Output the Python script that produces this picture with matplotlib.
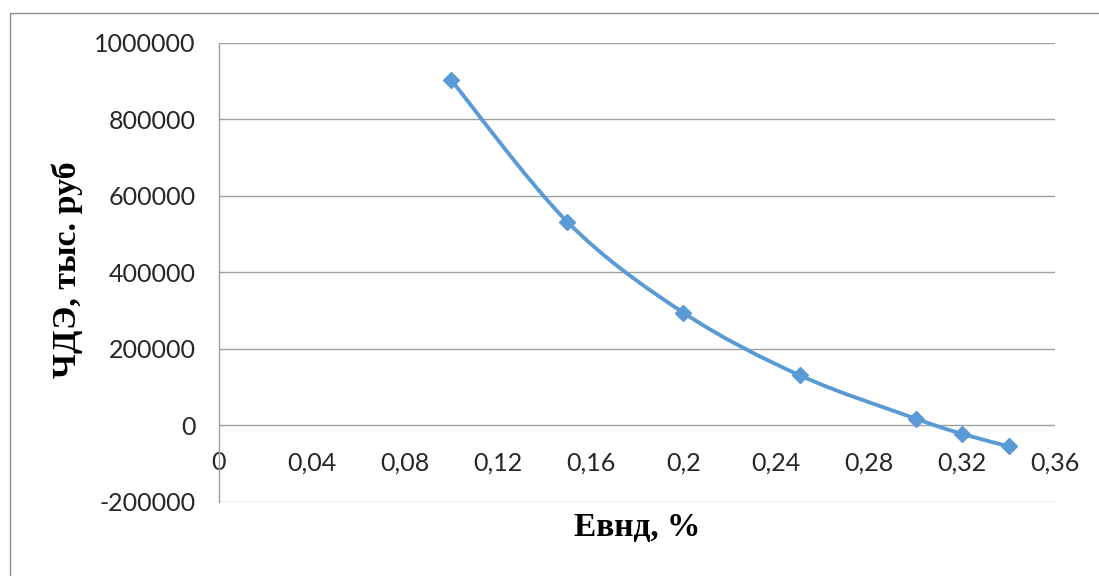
import numpy as np
import matplotlib
matplotlib.use("Agg")
import matplotlib.pyplot as plt
from matplotlib.path import Path
from matplotlib.patches import PathPatch, Rectangle
from matplotlib.ticker import FuncFormatter

# data
e_vnd = [0.10, 0.15, 0.20, 0.25, 0.30, 0.32, 0.34]
chde = [903000, 532000, 294000, 130500, 17000, -23000, -55500]

x_ticks = [0, 0.04, 0.08, 0.12, 0.16, 0.2, 0.24, 0.28, 0.32, 0.36]
y_ticks = [-200000, 0, 200000, 400000, 600000, 800000, 1000000]

x_label = "Евнд, %"
y_label = "ЧДЭ, тыс. руб"

line_color = "#5B9BD5"
grid_color = "#A0A0A0"

fig = plt.figure(figsize=(10.99, 5.76), dpi=100)
ax = fig.add_axes([219 / 1099, 1 - 501.5 / 576, (1055 - 219) / 1099, (501.5 - 43) / 576])

# excel-like smoothed line: bezier through the data points
pts = np.column_stack([e_vnd, chde]).astype(float)
verts = [pts[0]]
codes = [Path.MOVETO]
n = len(pts)
for i in range(n - 1):
    p_prev = pts[i - 1] if i > 0 else pts[i]
    p_next2 = pts[i + 2] if i + 2 < n else pts[i + 1]
    c1 = pts[i] + (pts[i + 1] - p_prev) / 6
    c2 = pts[i + 1] - (p_next2 - pts[i]) / 6
    verts += [c1, c2, pts[i + 1]]
    codes += [Path.CURVE4] * 3
ax.add_patch(PathPatch(Path(verts, codes), facecolor="none", edgecolor=line_color,
                       lw=2.8, capstyle="round", joinstyle="round", zorder=3))
ax.plot(e_vnd, chde, linestyle="none", marker="D", ms=8, color=line_color, zorder=4)

ax.set_xlim(0, 0.36)
ax.set_ylim(-200000, 1000000)
ax.set_yticks(y_ticks)
ax.set_xticks(x_ticks)
ax.yaxis.set_major_formatter(FuncFormatter(lambda v, p: "%d" % v))
ax.xaxis.set_major_formatter(FuncFormatter(lambda v, p: ("%g" % v).replace(".", ",")))

for s in ["top", "right", "bottom"]:
    ax.spines[s].set_visible(False)
ax.spines["left"].set_color(grid_color)
ax.spines["left"].set_linewidth(1)
ax.grid(axis="y", color=grid_color, lw=1)
ax.set_axisbelow(True)

# x axis labels sit under the zero line
ax.spines["bottom"].set_position(("data", 0))
ax.tick_params(axis="both", length=0, labelsize=18, labelcolor="#262626")
ax.tick_params(axis="y", pad=17)
ax.tick_params(axis="x", pad=19)
for lab in ax.get_xticklabels() + ax.get_yticklabels():
    lab.set_family("Lato")

fig.text(637 / 1099, 1 - 528 / 576, x_label, ha="center", va="center",
         family="Liberation Serif", weight="bold", fontsize=24)
fig.text(67 / 1099, 1 - 270 / 576, y_label, ha="center", va="center", rotation=90,
         family="Liberation Serif", weight="bold", fontsize=24.5)

fig.patches.append(Rectangle((10 / 1099, -0.01), 1.2, 1 - 13 / 576 + 0.01,
                             transform=fig.transFigure, fill=False,
                             edgecolor="#8C8C8C", lw=1))

fig.savefig("out.png", dpi=100)
